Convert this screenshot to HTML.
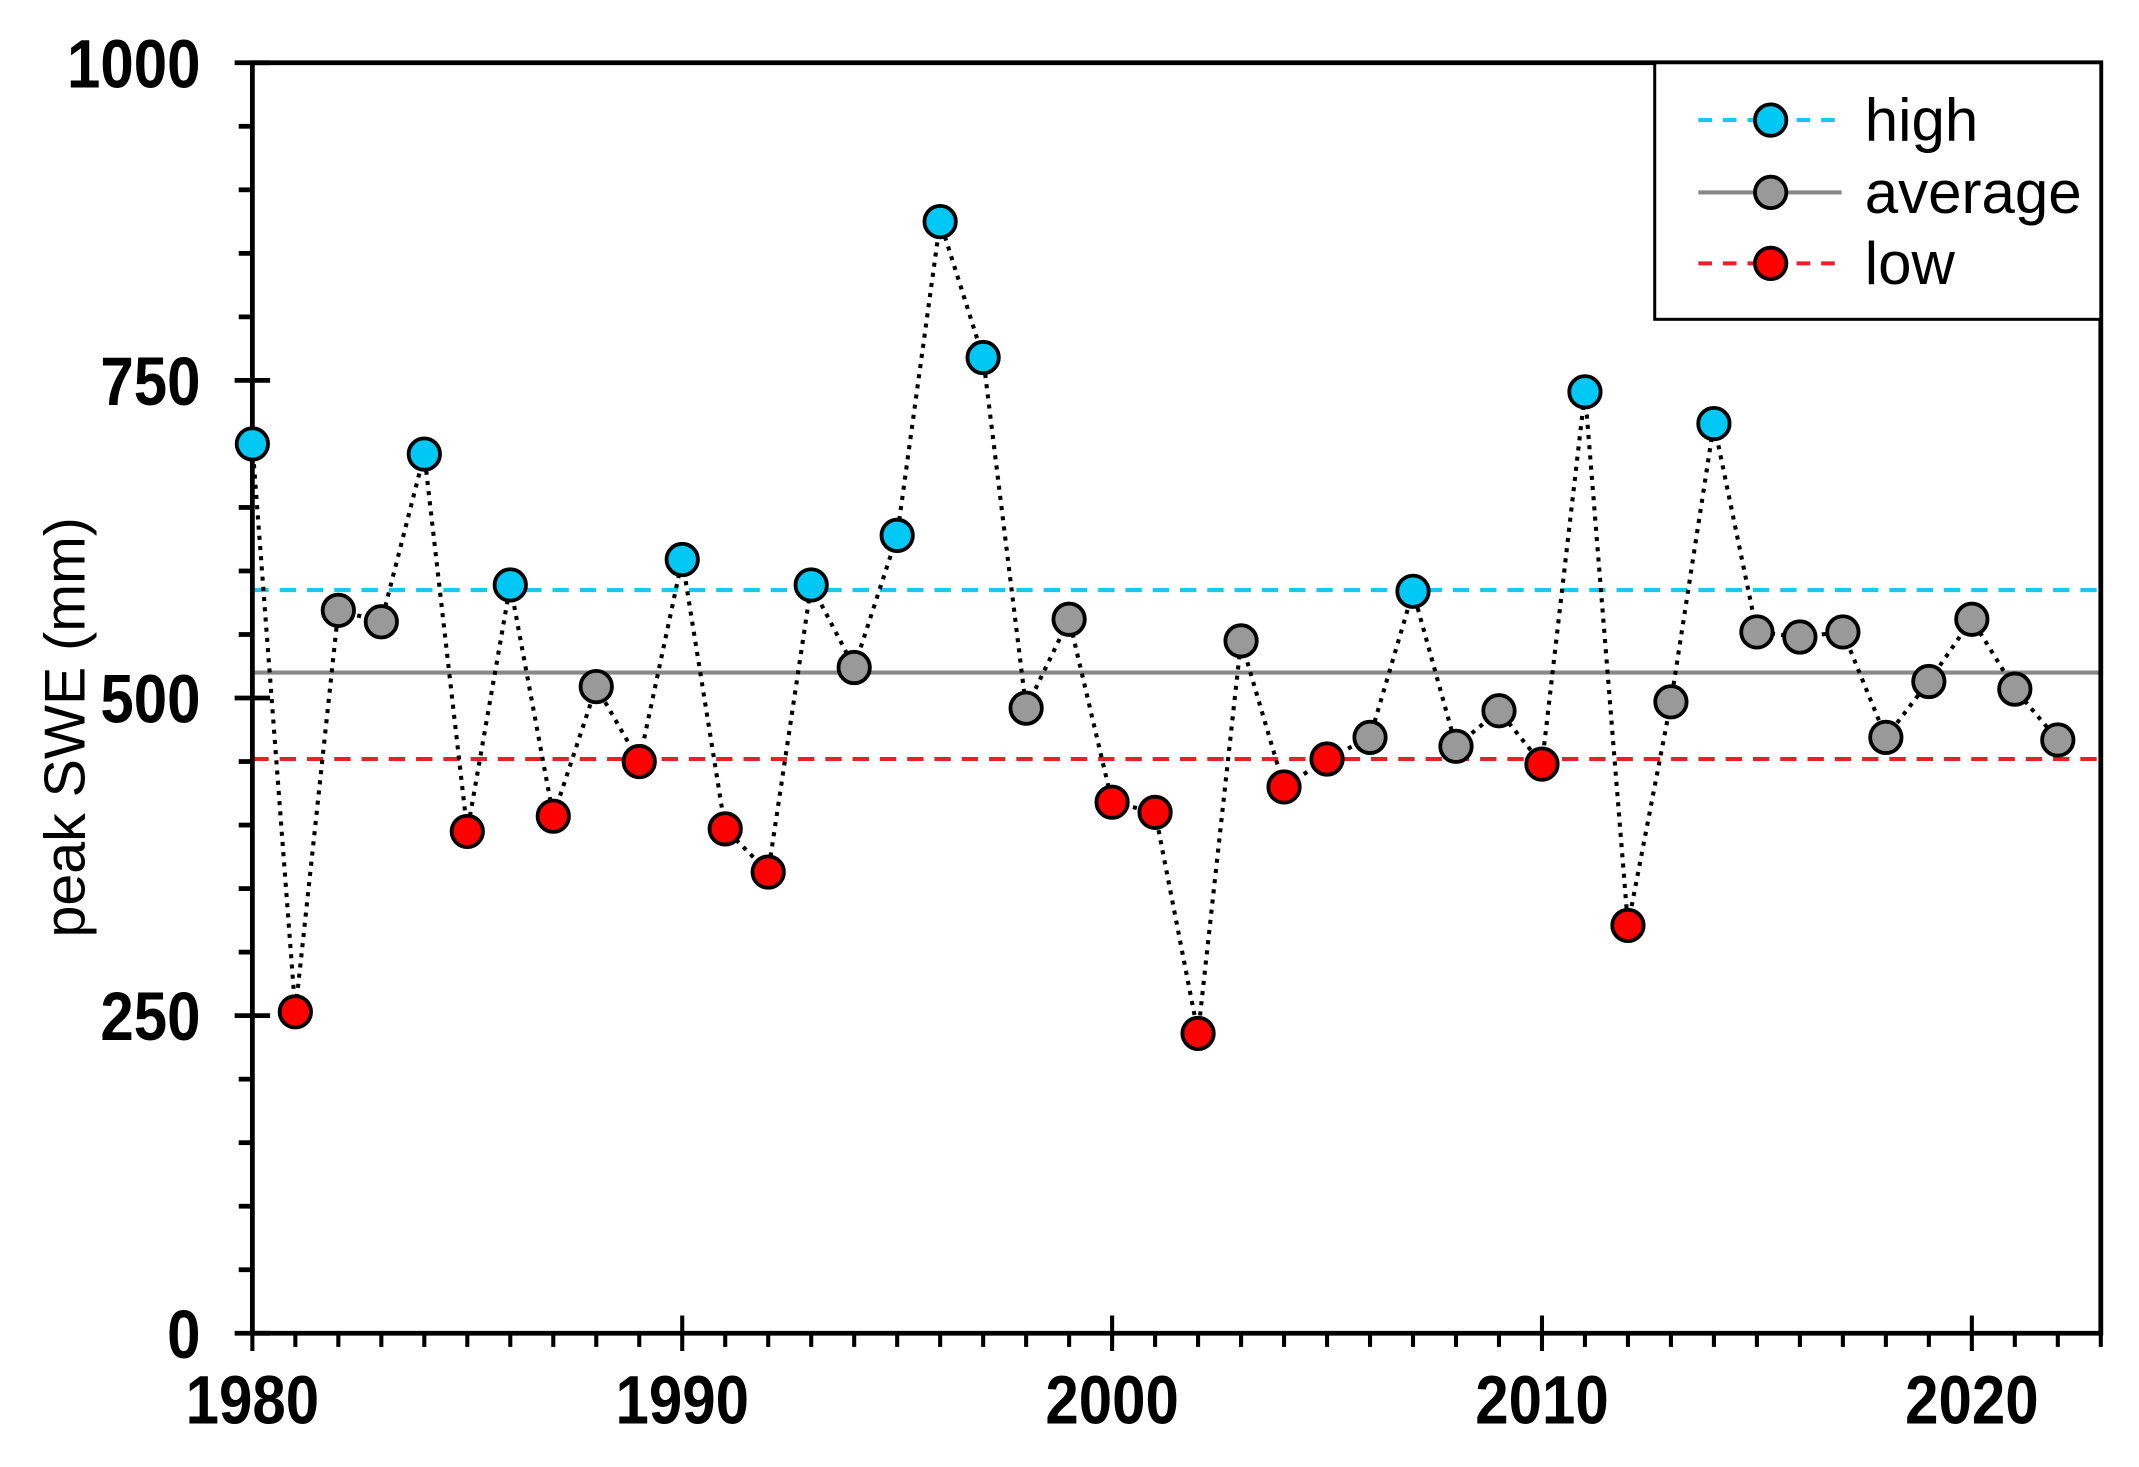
<!DOCTYPE html>
<html><head><meta charset="utf-8"><style>
html,body{margin:0;padding:0;background:#fff;}
svg{display:block;}
text{font-family:"Liberation Sans",Arial,sans-serif;}
</style></head><body>
<svg id="chart" width="2139" height="1467" viewBox="0 0 1568 1075" preserveAspectRatio="none" xmlns="http://www.w3.org/2000/svg">
<g id="plot"></g>
</svg>
<script>
const years = [1980,1981,1982,1983,1984,1985,1986,1987,1988,1989,1990,1991,1992,1993,1994,1995,1996,1997,1998,1999,2000,2001,2002,2003,2004,2005,2006,2007,2008,2009,2010,2011,2012,2013,2014,2015,2016,2017,2018,2019,2020,2021,2022];
const sweValues = [700,253,569,560,692,395,589,407,509,450,609,397,363,589,524,628,875,768,492,562,418,410,236,545,430,452,469,584,462,490,448,741,321,497,716,552,548,552,469,513,562,507,467];
const categories = ["high","low","avg","avg","high","low","high","low","avg","low","high","low","low","high","avg","high","high","high","avg","avg","low","low","low","avg","low","low","avg","high","avg","avg","low","high","low","avg","high","avg","avg","avg","avg","avg","avg","avg","avg"];
const thresholds = [585, 520, 452];
const yTickValues = [0,250,500,750,1000];
const xTickValues = [1980,1990,2000,2010,2020];

const L=185,R=1540,T=46,B=977;
const xMin=1980,xMax=2023,yMin=0,yMax=1000;
const xs=v=>L+(v-xMin)/(xMax-xMin)*(R-L);
const ys=v=>B-(v-yMin)/(yMax-yMin)*(B-T);
const NS="http://www.w3.org/2000/svg";
const g=document.getElementById('plot');
function mk(tag,attrs,parent){const e=document.createElementNS(NS,tag);for(const k in attrs)e.setAttribute(k,attrs[k]);(parent||g).appendChild(e);return e;}
const colors={high:"#00c8f5",avg:"#999999",low:"#ff0000"};

const refStyles=[{c:"#19c8ec",d:"12 8",n:"high-threshold-line"},{c:"#888888",d:"none",n:"average-line"},{c:"#e8202a",d:"12 8",n:"low-threshold-line"}];
thresholds.forEach((t,i)=>{
  const ln=mk('line',{x1:L,x2:R,y1:ys(t),y2:ys(t),stroke:refStyles[i].c,'stroke-width':3,'stroke-dasharray':refStyles[i].d});
  
  
});

let d='';
years.forEach((y,i)=>{d+=(i?'L':'M')+xs(y)+','+ys(sweValues[i]);});
const path=mk('path',{d:d,fill:'none',stroke:'#000','stroke-width':3,'stroke-dasharray':'3 4.5'});



const frame=mk('path',{d:`M${L},${T}H${R}V${B}H${L}Z`,fill:'none',stroke:'#000','stroke-width':3.5});



for(let v=0;v<=1000;v+=50){
  const major=v%250===0;
  const t=mk('line',{x1:major?L-13:L-10,x2:major?L+13:L,y1:ys(v),y2:ys(v),stroke:'#000','stroke-width':3.5});
  
  
}
yTickValues.forEach(v=>{
  const t=mk('text',{x:0,y:0,transform:`translate(${L-38},${ys(v)+18}) scale(0.88,1)`,'text-anchor':'end','font-size':50,'font-weight':'bold'});
  t.textContent=v;
  
  
});
for(let v=1980;v<=2023;v++){
  const major=v%10===0;
  const t=mk('line',{x1:xs(v),x2:xs(v),y1:major?B-13:B,y2:major?B+13:B+10,stroke:'#000','stroke-width':3});
  
  
}
xTickValues.forEach(v=>{
  const t=mk('text',{x:0,y:0,transform:`translate(${xs(v)},${B+66}) scale(0.88,1)`,'text-anchor':'middle','font-size':50,'font-weight':'bold'});
  t.textContent=v;
  
  
});
const yt=mk('text',{x:0,y:0,transform:`translate(62,533) rotate(-90)`,'text-anchor':'middle','font-size':42});
yt.textContent='peak SWE (mm)';



years.forEach((y,i)=>{
  const c=mk('circle',{cx:xs(y),cy:ys(sweValues[i]),r:11.5,fill:colors[categories[i]],stroke:'#000','stroke-width':2.8});
  
  
});

const lg=mk('g',{});


mk('rect',{x:1213,y:46,width:327,height:188,fill:'#fff',stroke:'#000','stroke-width':2.2},lg);
const entries=[{lab:'high',k:'high',y:88},{lab:'average',k:'avg',y:141},{lab:'low',k:'low',y:193}];
entries.forEach((e,i)=>{
  const eg=mk('g',{},lg);
  
  
  mk('line',{x1:1245,x2:1350,y1:e.y,y2:e.y,stroke:refStyles[i].c,'stroke-width':3,'stroke-dasharray':refStyles[i].d==='none'?'none':'10 8'},eg);
  mk('circle',{cx:1298,cy:e.y,r:11.5,fill:colors[e.k],stroke:'#000','stroke-width':2.8},eg);
  const t=mk('text',{x:1367,y:e.y+15,'font-size':44},eg);
  t.textContent=e.lab;
});
</script>
</body></html>
